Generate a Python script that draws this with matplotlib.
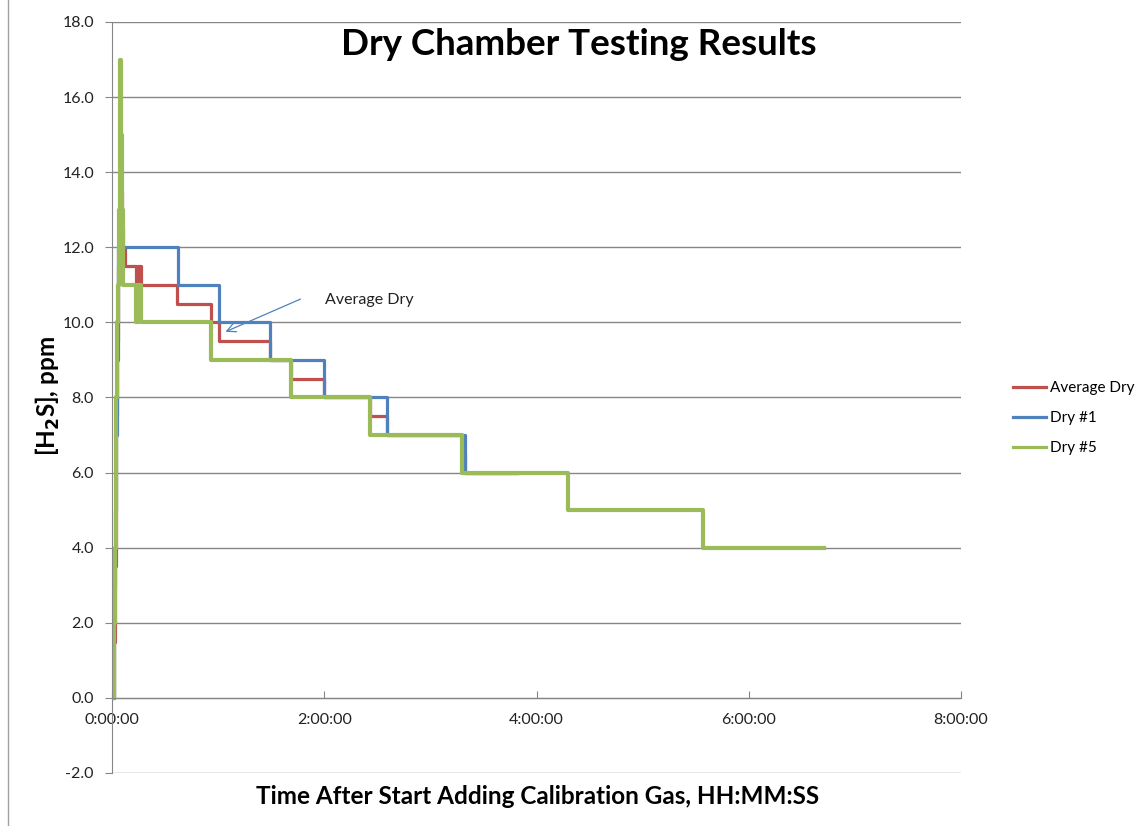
import matplotlib.pyplot as plt
from matplotlib.ticker import FuncFormatter, MultipleLocator
from matplotlib.lines import Line2D

# time in minutes after start, value in ppm (steps-post: value holds until next time)
avg_t = [0.5, 1.0, 1.5, 2.0, 2.5, 3.0, 3.5, 4.0, 4.3, 4.6, 5.0, 5.4, 6.0, 7.3, 13.6, 14.7,
         16.4, 36.5, 56.0, 60.5, 89.3, 101.0, 120.0, 146.0, 155.5, 198.5, 199.6, 229.0]
avg_v = [0.0, 1.5, 3.5, 5.5, 7.5, 9.5, 11.5, 12.5, 13.5, 14.5, 13.5, 12.5, 12.0, 11.5, 11.0, 11.5,
         11.0, 10.5, 10.0, 9.5, 9.0, 8.5, 8.0, 7.5, 7.0, 6.5, 6.0, 6.0]

dry1_t = [0.5, 1.0, 1.4, 1.8, 2.2, 2.6, 3.0, 3.3, 3.6, 37.3, 60.5, 89.3, 120.0, 155.5, 199.6, 229.0]
dry1_v = [0.0, 1.0, 3.0, 5.0, 7.0, 8.0, 9.0, 11.0, 12.0, 11.0, 10.0, 9.0, 8.0, 7.0, 6.0, 6.0]

dry5_t = [0.5, 1.0, 1.5, 2.0, 2.5, 3.0, 3.5, 4.0, 4.3, 4.6, 5.0, 5.4, 6.0, 13.6, 14.7, 16.4,
          56.0, 101.0, 146.0, 198.0, 258.0, 334.0, 402.5]
dry5_v = [0.0, 2.0, 4.0, 6.0, 8.0, 10.0, 11.0, 13.0, 15.0, 17.0, 15.0, 13.0, 11.0, 10.0, 11.0, 10.0,
          9.0, 8.0, 7.0, 6.0, 5.0, 4.0, 4.0]

c_avg = '#C0504D'
c_d1 = '#4F81BD'
c_d5 = '#9BBB59'
grid_c = '#868686'

plt.rcParams['font.family'] = ['Lato', 'DejaVu Sans']

fig = plt.figure(figsize=(11.43, 8.26), dpi=100)
ax = fig.add_axes([0.098, 0.0642, 0.7428, 0.9092])

ax.plot(avg_t, avg_v, drawstyle='steps-post', color=c_avg, lw=2.3, label='Average Dry')
ax.plot(dry1_t, dry1_v, drawstyle='steps-post', color=c_d1, lw=2.3, label='Dry #1')
ax.plot(dry5_t, dry5_v, drawstyle='steps-post', color=c_d5, lw=3.0, label='Dry #5')

ax.set_xlim(0, 480)
ax.set_ylim(-2, 18)
ax.yaxis.set_major_locator(MultipleLocator(2))
ax.yaxis.set_major_formatter(FuncFormatter(lambda v, p: '%.1f' % v))
ax.xaxis.set_major_locator(MultipleLocator(120))
ax.xaxis.set_major_formatter(FuncFormatter(lambda v, p: '%d:%02d:00' % (v // 60, v % 60)))
ax.grid(axis='y', color=grid_c, lw=1)
ax.set_axisbelow(True)

for s in ['top', 'right']:
    ax.spines[s].set_visible(False)
ax.spines['left'].set_color(grid_c)
ax.spines['bottom'].set_color(grid_c)
ax.spines['bottom'].set_position(('data', 0))
ax.tick_params(axis='y', colors=grid_c, labelcolor='#222222', labelsize=11.5, length=5, pad=8)
ax.tick_params(axis='x', colors=grid_c, labelcolor='#222222', labelsize=11.5, length=5,
               direction='in', pad=11)

ax.annotate('', xy=(62.7, 9.72), xytext=(108, 10.65),
            arrowprops=dict(arrowstyle='->', color=c_d1, lw=0.9, mutation_scale=16))
ax.text(120.4, 10.6, 'Average Dry', fontsize=11.5, va='center', ha='left', color='#222222')

fig.text(0.506, 0.946, 'Dry Chamber Testing Results', fontsize=26.5, fontweight='bold',
         ha='center', va='center')
fig.text(0.47, 0.036, 'Time After Start Adding Calibration Gas, HH:MM:SS', fontsize=17.5,
         fontweight='bold', ha='center', va='center')
fig.text(0.042, 0.52, '[H$_\\mathbf{2}$S], ppm', fontsize=17.5, fontweight='bold', rotation=90,
         ha='center', va='center')

handles = [Line2D([], [], color=c_avg, lw=2.3), Line2D([], [], color=c_d1, lw=2.3),
           Line2D([], [], color=c_d5, lw=2.3)]
fig.legend(handles, ['Average Dry', 'Dry #1', 'Dry #5'], loc='center left',
           bbox_to_anchor=(0.874, 0.494), frameon=False, fontsize=11, handlelength=2.2,
           handletextpad=0.25, labelspacing=1.05)

fig.add_artist(Line2D([0.007, 0.007], [0, 1], color='#A0A0A0', lw=1))

fig.savefig('out.png', dpi=100)
